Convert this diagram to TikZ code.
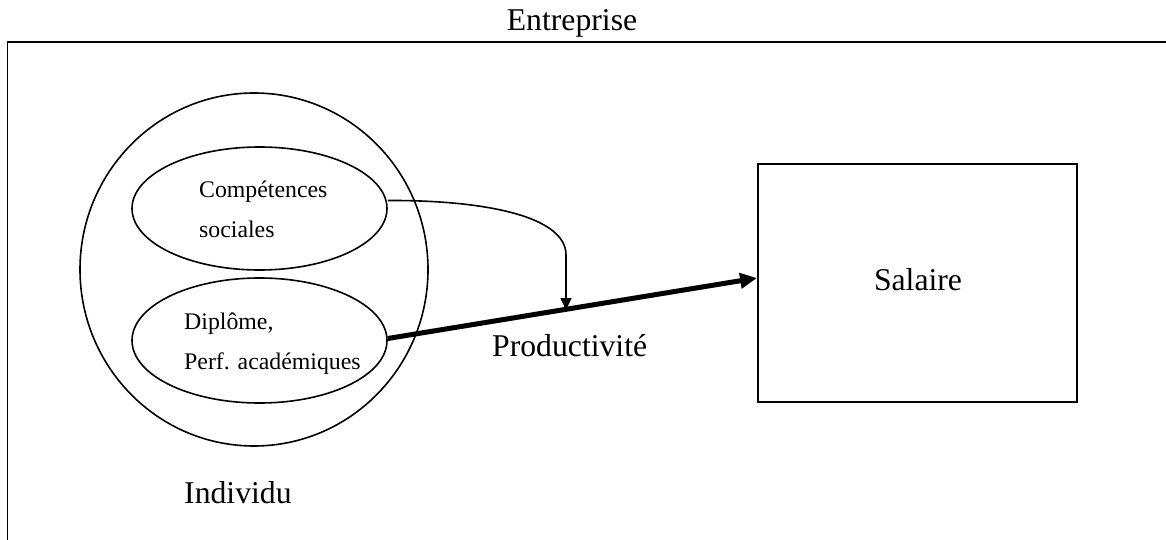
\documentclass[tikz,border=0pt]{standalone}
\usepackage{fontspec}
\setmainfont{Liberation Serif}
\usetikzlibrary{shapes.geometric,arrows.meta}
\begin{document}
\begin{tikzpicture}[x=1pt,y=-1pt,
  line/.style={line width=1.6pt,black},
  oval/.style={draw,line width=1.6pt,ellipse,inner sep=0pt},
  smalltxt/.style={font=\fontsize{23.8}{28}\selectfont,anchor=base west,inner sep=0pt},
  bigtxt/.style={font=\fontsize{31.7}{38}\selectfont,inner sep=0pt},
  boxnode/.style={draw,line width=1.8pt,rectangle,inner sep=0pt},
  thickarrow/.style={line width=5pt,-{Triangle[length=17pt,width=15pt]}},
  thinarrow/.style={line width=1.6pt,-{Triangle[length=12pt,width=11pt]}}]
\useasboundingbox (0,0) rectangle (1166,540);
% frame
\coordinate (ftr) at (1166,42);
\coordinate (ftl) at (7.3,42);
\coordinate (fbl) at (7.3,540);
\draw[line] (ftr) -- (ftl) -- (fbl);
\node[bigtxt,anchor=base] (ent) at (572,31) {Entreprise};
% individu
\node[oval,minimum width=348pt,minimum height=353pt] (ind) at (254,269.5) {};
\node[oval,minimum width=255pt,minimum height=123pt] (comp) at (259.5,208.5) {};
\node[oval,minimum width=255pt,minimum height=125pt] (dip) at (259.5,340.5) {};
\node[smalltxt] (c1) at (199,197) {Compétences};
\node[smalltxt] (c2) at (199,237) {sociales};
\node[smalltxt] (d1) at (184,329) {Diplôme,};
\node[smalltxt] (d2) at (184,369) {Perf. académiques};
\node[bigtxt,anchor=base west] (indl) at (184,503) {Individu};
% salaire
\node[boxnode,minimum width=319pt,minimum height=238pt] (sal) at (917.5,283) {};
\node[bigtxt] (sall) at (918,280) {Salaire};
% arrows
\draw[thickarrow] ([yshift=2pt]dip.east) -- ([yshift=5pt]sal.west);
\coordinate (hit) at (566,310);
\coordinate (bend) at (566,255);
\draw[thinarrow] ([yshift=8pt]comp.east) .. controls (480,200) and (566,215) .. (bend) -- (hit);
\node[bigtxt,anchor=base west] (prod) at (492,356) {Productivité};
\end{tikzpicture}
\end{document}
